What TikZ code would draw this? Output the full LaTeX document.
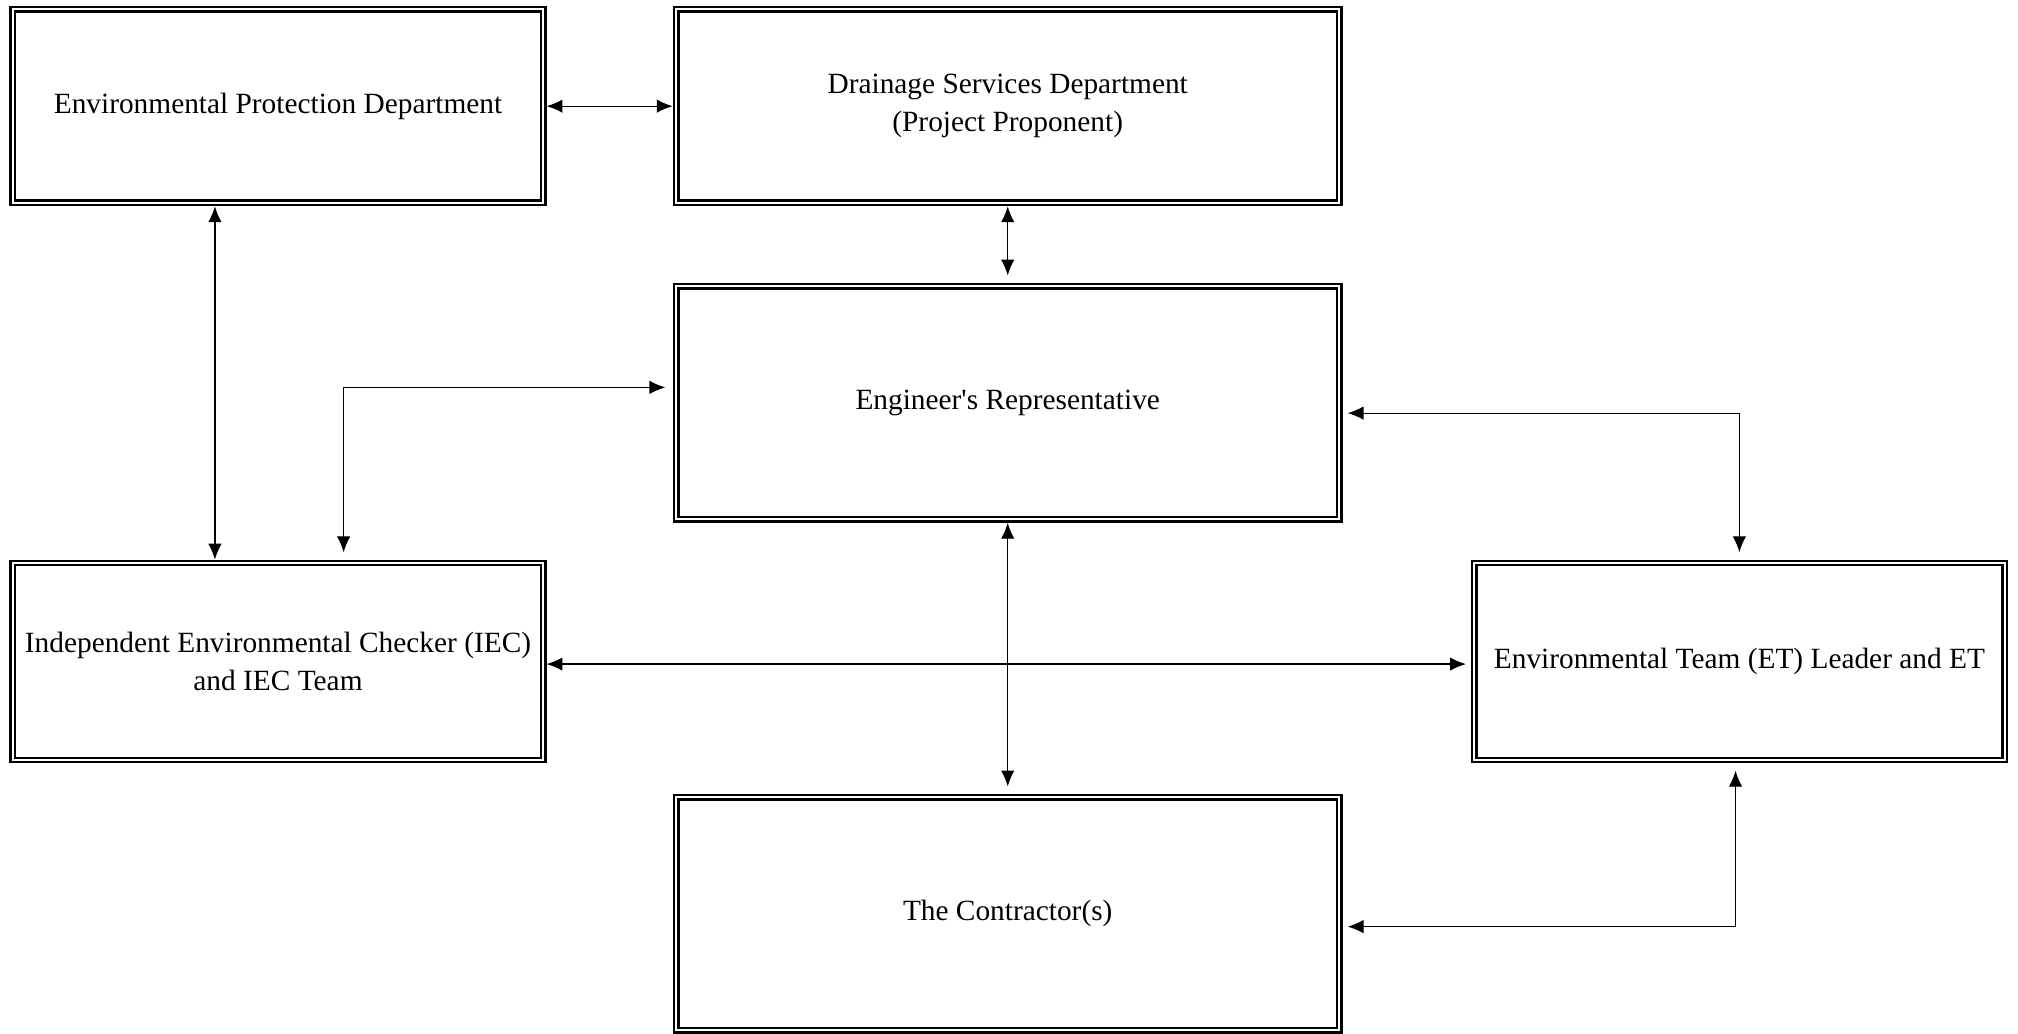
\documentclass[tikz,border=0pt]{standalone}
\usepackage{fontspec}
\setmainfont{Liberation Serif}
\usepackage{tikz}
\usetikzlibrary{arrows.meta,calc}

\begin{document}
\begin{tikzpicture}[x=0.0185cm,y=0.0185cm,
    box/.style={draw,double,line width=1pt,double distance=0.8pt,outer sep=1.4pt,
        inner sep=0pt,align=center,font=\fontsize{12}{15.5}\selectfont},
    link/.style={{Latex[length=6.5pt,width=5.5pt]}-{Latex[length=6.5pt,width=5.5pt]},line width=0.5pt}]
    \useasboundingbox (0,0) rectangle (1568,803);
    % boxes
    \node[box,minimum width=7.62cm,minimum height=2.78cm] (epd) at (216,720.5) {Environmental Protection Department};
    \node[box,minimum width=9.53cm,minimum height=2.78cm] (dsd) at (783,720.5) {Drainage Services Department\\(Project Proponent)};
    \node[box,minimum width=9.53cm,minimum height=3.35cm] (er) at (783,490) {Engineer\textquotesingle s Representative};
    \node[box,minimum width=7.62cm,minimum height=2.83cm] (iec) at (216,289) {Independent Environmental Checker (IEC)\\and IEC Team};
    \node[box,minimum width=7.62cm,minimum height=2.83cm] (et) at (1351.5,289) {Environmental Team (ET) Leader and ET};
    \node[box,minimum width=9.53cm,minimum height=3.35cm] (con) at (783,93) {The Contractor(s)};
    % links
    \draw[link] (epd) -- (dsd);
    \draw[link,shorten >=3pt] (dsd) -- (er);
    \draw[link] ($(epd.south)+(-49,0)$) -- ($(iec.north)+(-49,0)$);
    \draw[link,shorten <=3pt,shorten >=3pt] ($(iec.north)+(51,0)$) |- ($(er.west)+(0,12)$);
    \draw[link,shorten <=2pt,shorten >=3pt] ($(er.east)+(0,-8)$) -| (et.north);
    \draw[link,shorten >=3pt] (er) -- (con);
    \draw[link,shorten >=2pt] (iec.east |- 0,287) -- (et.west |- 0,287);
    \draw[link,shorten <=2pt,shorten >=3pt] ($(con.east)+(0,-10)$) -| ($(et.south)+(-3,0)$);
\end{tikzpicture}
\end{document}
